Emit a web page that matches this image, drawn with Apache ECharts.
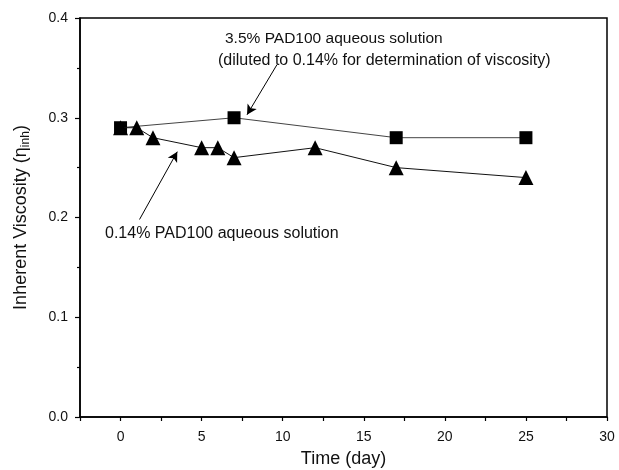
<!DOCTYPE html>
<html>
<head>
<meta charset="utf-8">
<script src="https://cdn.jsdelivr.net/npm/echarts@6/dist/echarts.min.js"></script>
<style>
  html, body { margin: 0; padding: 0; background: #fff; }
  #chart { width: 619px; height: 470px; }
</style>
</head>
<body>
<div id="chart"></div>
<script>
// 3.5% solution (diluted for measurement)
var daysSquare = [0, 7, 17, 25]
var viscSquare = [0.29, 0.30, 0.28, 0.28]
// 0.14% solution
var daysTri = [0, 1, 2, 5, 6, 7, 12, 17, 25]
var viscTri = [0.29, 0.29, 0.28, 0.27, 0.27, 0.26, 0.27, 0.25, 0.24]

var xTicks = [0, 5, 10, 15, 20, 25, 30]
var yTicks = [0.0, 0.1, 0.2, 0.3, 0.4]

function pairs(xs, ys) {
  var res = []
  for (var i = 0; i < xs.length; i++) res.push([xs[i], ys[i]])
  return res
}

var font = 'Liberation Sans, Arial, sans-serif'
var chart = echarts.init(document.getElementById('chart'))

chart.setOption({
  backgroundColor: '#fff',
  animation: false,
  grid: {
    left: 80, right: 12, top: 18, bottom: 53,
    outerBoundsMode: 'none',
    containLabel: false,
    show: true, borderColor: '#000', borderWidth: 1.5
  },
  xAxis: {
    type: 'value',
    min: -2.5, max: 30, interval: 2.5,
    name: 'Time (day)',
    nameLocation: 'middle',
    nameGap: 33,
    nameTextStyle: { fontFamily: font, fontSize: 18, color: '#111' },
    axisLine: { onZero: false, lineStyle: { color: '#000', width: 1.5 } },
    axisTick: { show: true, inside: false, length: 4, lineStyle: { color: '#000', width: 1.2 } },
    axisLabel: {
      fontFamily: font, fontSize: 14, color: '#111', margin: 13,
      formatter: function (v) {
        return xTicks.indexOf(v) >= 0 ? String(v) : ''
      }
    },
    splitLine: { show: false }
  },
  yAxis: {
    type: 'value',
    min: 0, max: 0.4, interval: 0.1,
    name: '{a|Inherent Viscosity (η}{s|inh}{a|)}',
    nameLocation: 'middle',
    nameGap: 48,
    nameTextStyle: {
      rich: {
        a: { fontFamily: font, fontSize: 18, color: '#111', lineHeight: 22 },
        s: { fontFamily: font, fontSize: 12, color: '#111', lineHeight: 22, verticalAlign: 'bottom', padding: [7, 0, 0, 0] }
      }
    },
    axisLine: { onZero: false, lineStyle: { color: '#000', width: 1.5 } },
    axisTick: { show: true, inside: false, length: 5, lineStyle: { color: '#000', width: 1.2 } },
    minorTick: { show: true, splitNumber: 2, length: 3, lineStyle: { color: '#000', width: 1.2 } },
    axisLabel: {
      fontFamily: font, fontSize: 14, color: '#111', margin: 12,
      formatter: function (v) { return v.toFixed(1) }
    },
    splitLine: { show: false }
  },
  graphic: [
    {
      type: 'text', left: 225, top: 31,
      style: { text: '3.5% PAD100 aqueous solution', font: '15.5px ' + font, fill: '#111' }
    },
    {
      type: 'text', left: 218, top: 53,
      style: { text: '(diluted to 0.14% for determination of viscosity)', font: '16px ' + font, fill: '#111' }
    },
    {
      type: 'text', left: 105, top: 226,
      style: { text: '0.14% PAD100 aqueous solution', font: '16px ' + font, fill: '#111' }
    }
  ],
  series: [
    {
      name: '3.5% PAD100',
      type: 'line',
      data: pairs(daysSquare, viscSquare),
      symbol: 'rect',
      symbolSize: 13,
      itemStyle: { color: '#000' },
      lineStyle: { color: '#444', width: 1 },
      z: 3,
      markLine: {
        silent: true,
        symbol: ['none', 'arrow'],
        symbolSize: [8, 10],
        label: { show: false },
        lineStyle: { color: '#000', width: 1, type: 'solid' },
        data: [
          [{ coord: [9.64, 0.353] }, { coord: [7.8, 0.303] }],
          [{ coord: [1.17, 0.198] }, { coord: [3.5, 0.266] }]
        ]
      }
    },
    {
      name: '0.14% PAD100',
      type: 'line',
      data: pairs(daysTri, viscTri),
      symbol: 'triangle',
      symbolSize: 15,
      itemStyle: { color: '#000' },
      lineStyle: { color: '#111', width: 1 },
      z: 4
    }
  ]
})
</script>
</body>
</html>
